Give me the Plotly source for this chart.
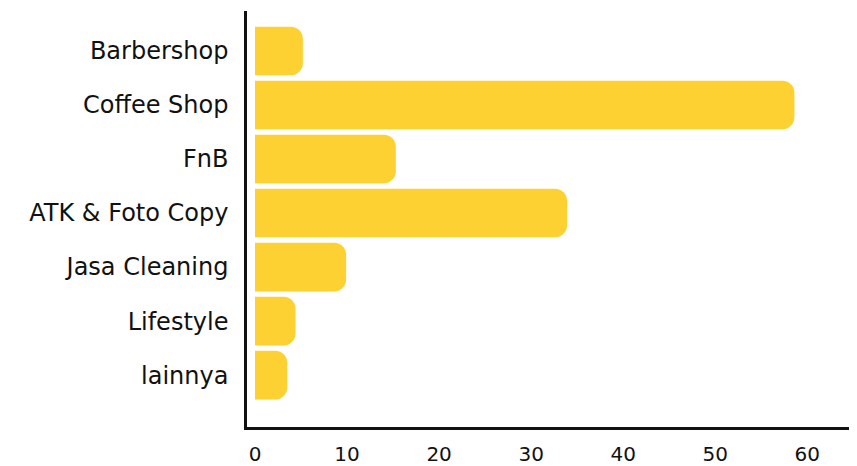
import plotly.graph_objects as go

categories = ["Barbershop", "Coffee Shop", "FnB", "ATK & Foto Copy",
              "Jasa Cleaning", "Lifestyle", "lainnya"]
values = [5.2, 58.6, 15.3, 33.9, 9.9, 4.4, 3.5]
x_ticks = [0, 10, 20, 30, 40, 50, 60]

YELLOW = "#FDD131"
FONT = "DejaVu Sans"

fig = go.Figure(
    go.Bar(x=values, y=categories, orientation="h",
           marker=dict(color=YELLOW, line_width=0, cornerradius=12))
)

# page body keeps an 8px margin, so the figure is shrunk by that amount
fig.update_layout(
    width=849, height=458,
    margin=dict(l=239, r=0, t=3, b=39),
    paper_bgcolor="white", plot_bgcolor="white",
    bargap=0.1, showlegend=False,
    font=dict(family=FONT, color="#111111"),
)
fig.update_xaxes(
    range=[-0.87, 65.4], tickvals=x_ticks, showgrid=False, zeroline=False,
    showline=True, linecolor="#111111", linewidth=2.5,
    tickfont=dict(size=20), ticklabelstandoff=7,
)
fig.update_yaxes(
    type="category", range=[6.96, -0.74], showgrid=False, zeroline=False,
    showline=True, linecolor="#111111", linewidth=2.5,
    tickfont=dict(size=24), ticklabelstandoff=11,
)

fig.write_html("out.html")
